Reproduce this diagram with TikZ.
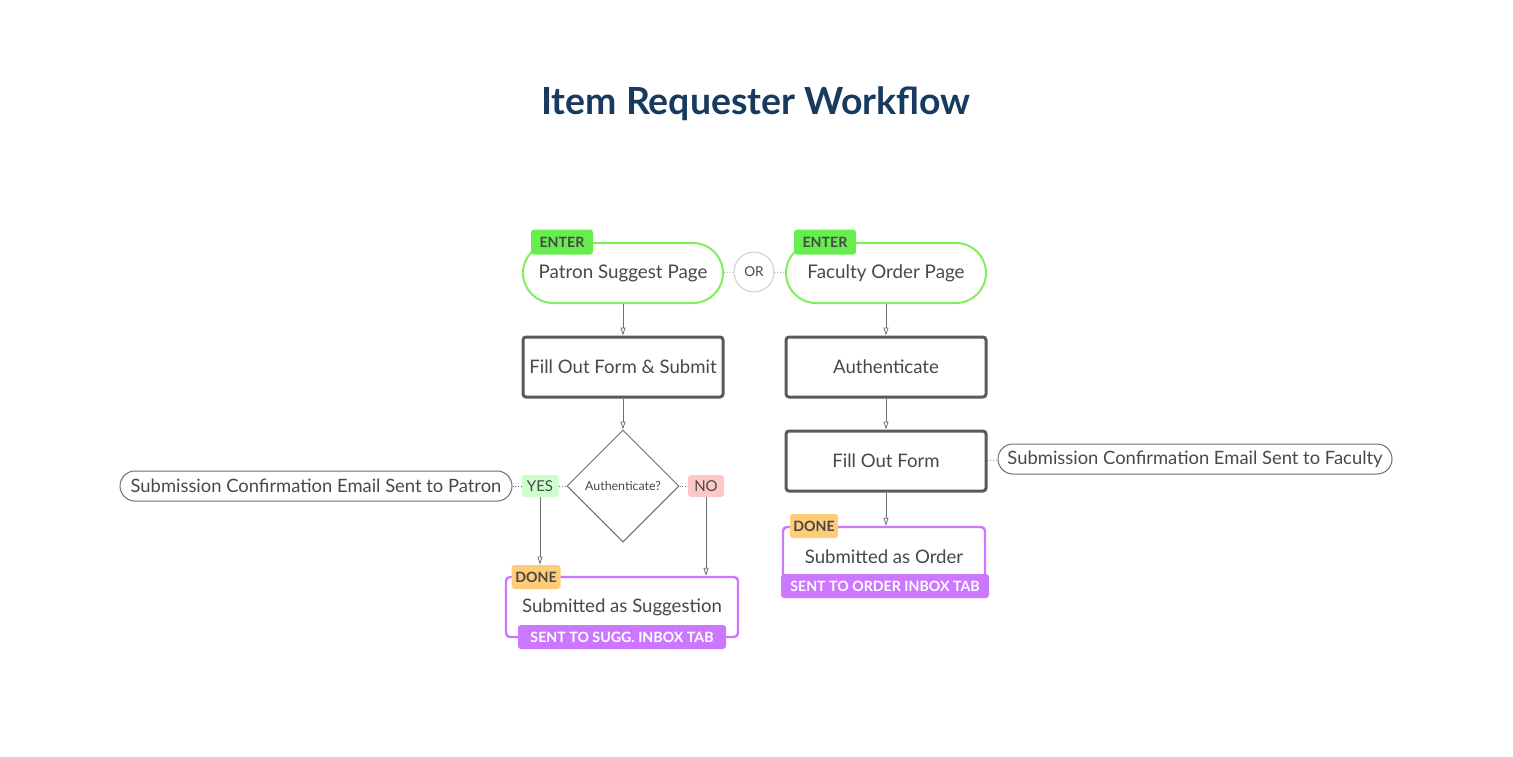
\documentclass[tikz,border=0pt]{standalone}
\usepackage{fontspec}
\setmainfont{Lato}
\usetikzlibrary{arrows.meta,positioning,shapes.geometric}
\definecolor{irInk}   {HTML}{484848}
\definecolor{irTitle} {HTML}{173A5E}
\definecolor{irGreen} {HTML}{7DF05E}
\definecolor{irEnter} {HTML}{66EE4F}
\definecolor{irBox}   {HTML}{5A5A5A}
\definecolor{irLine}  {HTML}{6E6E6E}
\definecolor{irPurple}{HTML}{CC77FF}
\definecolor{irDone}  {HTML}{FFCC77}
\definecolor{irYes}   {HTML}{CCFFCC}
\definecolor{irNo}    {HTML}{FFC8C8}
\definecolor{irRing}  {HTML}{CCCCCC}
\newcommand{\irsize}[1]{\fontsize{#1}{#1}\selectfont}

\tikzset{
  page/.style={draw=irGreen,line width=1pt,rounded corners=15pt,fill=white,
               minimum width=100pt,minimum height=30pt,inner sep=0pt,
               text=irInk,font=\irsize{9.4}},
  stepbox/.style={draw=irBox,line width=1.5pt,rounded corners=1.5pt,fill=white,
               minimum width=100pt,minimum height=30pt,inner sep=0pt,
               text=irInk,font=\irsize{9.3}},
  donebox/.style={draw=irPurple,line width=1.2pt,rounded corners=2pt,fill=white,
               minimum height=30pt,inner sep=0pt,text=irInk,font=\irsize{9.3}},
  note/.style={draw=irLine,line width=0.5pt,rounded corners=7.5pt,
               minimum height=15pt,inner sep=0pt,text=irInk,font=\irsize{9.2}},
  tag/.style={rounded corners=1.5pt,inner sep=0pt,minimum height=12pt,
              text=irInk,font=\bfseries\irsize{7.1}},
  flow/.style={-{Triangle[open,length=4pt,width=2.5pt]},irLine,line width=0.4pt},
  link/.style={irLine,densely dotted,line width=0.4pt},
}

\begin{document}
\begin{tikzpicture}[x=0.5pt,y=-0.5pt]
  \useasboundingbox (0,0) rectangle (1513,756);

  \node[text=irTitle,font=\bfseries\irsize{18.7}] (title) at (756,104) {Item Requester Workflow};

  % left column
  \node[page] (patron) at (623,273) {Patron Suggest Page};
  \node[stepbox] (submit) at (623,367) {Fill Out Form \& Submit};
  \node[diamond,draw=irLine,line width=0.5pt,minimum width=56pt,minimum height=56pt,
        inner sep=0pt,text=irInk,font=\irsize{6.2}] (auth) at (623,486) {Authenticate?};
  \node[tag,fill=irYes,minimum width=18.5pt,minimum height=11pt,
        font=\irsize{7.5}] (yes) at (540,486) {YES};
  \node[tag,fill=irNo,minimum width=18pt,minimum height=11pt,
        font=\irsize{7.5}] (no) at (706,486) {NO};
  \node[note,minimum width=196pt] (mailp) at (316,486) {Submission Confirmation Email Sent to Patron};
  \node[donebox,minimum width=116pt] (sugg) at (622,607) {Submitted as Suggestion};
  \node[tag,fill=irPurple,text=white,minimum width=104pt] (suggtab) at (622,637) {SENT TO SUGG. INBOX TAB};

  % right column
  \node[page] (faculty) at (886,273) {Faculty Order Page};
  \node[stepbox] (authn) at (886,367) {Authenticate};
  \node[stepbox] (form) at (886,461) {Fill Out Form};
  \node[note,minimum width=197pt] (mailf) at (1195,459) {Submission Confirmation Email Sent to Faculty};
  \node[donebox,minimum width=101pt] (order) at (884,557) {Submitted as Order};
  \node[tag,fill=irPurple,text=white,minimum width=104pt] (ordertab) at (885,586) {SENT TO ORDER INBOX TAB};

  % entry points
  \node[tag,fill=irEnter,minimum width=31pt,minimum height=12.5pt] (enter1) at (562,242) {ENTER};
  \node[tag,fill=irEnter,minimum width=31pt,minimum height=12.5pt] (enter2) at (825,242) {ENTER};
  \node[circle,draw=irRing,line width=0.5pt,minimum size=20pt,inner sep=0pt,
        text=irInk,font=\irsize{6.8}] (or) at (754,272) {OR};

  % done tags
  \node[tag,fill=irDone,minimum width=24.5pt] (done1) at (536,577) {DONE};
  \node[tag,fill=irDone,minimum width=24pt] (done2) at (814,526) {DONE};

  % connectors
  \draw[link] (patron) -- (or);
  \draw[link] (or) -- (faculty);
  \draw[link] (mailp) -- (yes);
  \draw[link] (yes) -- (auth);
  \draw[link] (auth) -- (no);
  \draw[link] (form) -- (mailf);

  \draw[flow] (patron) -- (submit);
  \draw[flow] (submit) -- (auth);
  \draw[flow] (yes) -- (yes |- done1.north);
  \draw[flow] (no) -- (no |- sugg.north);
  \draw[flow] (faculty) -- (authn);
  \draw[flow] (authn) -- (form);
  \draw[flow] (form) -- (form |- order.north);
\end{tikzpicture}
\end{document}
